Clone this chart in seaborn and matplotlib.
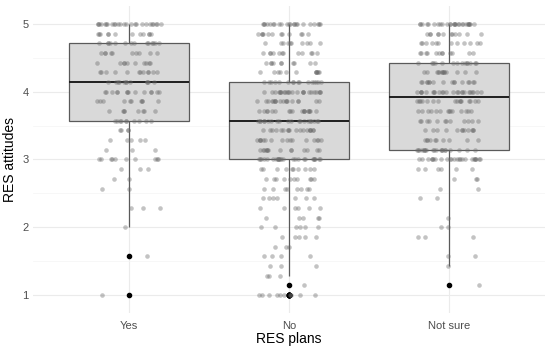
import numpy as np
import pandas as pd
import matplotlib
matplotlib.use('Agg')
import matplotlib.pyplot as plt
import seaborn as sns

# answer levels of the attitude score (sevenths between 1 and 5)
levels = [1.0, 1.143, 1.286, 1.429, 1.571, 1.714, 1.857, 2.0, 2.143, 2.286,
          2.429, 2.571, 2.714, 2.857, 3.0, 3.143, 3.286, 3.429, 3.571, 3.714,
          3.857, 4.0, 4.143, 4.286, 4.429, 4.571, 4.714, 4.857, 5.0]

# how many respondents sit on each level, per group
counts_yes = [1, 0, 0, 0, 1, 0, 0, 1, 0, 3,
              0, 2, 2, 3, 10, 3, 5, 4, 10, 8,
              10, 14, 12, 12, 10, 10, 14, 12, 25]
counts_no = [10, 1, 3, 3, 4, 3, 5, 6, 5, 6,
             7, 8, 10, 10, 25, 14, 16, 18, 20, 18,
             18, 24, 16, 12, 10, 12, 10, 12, 22]
counts_notsure = [0, 1, 0, 1, 2, 0, 3, 2, 1, 0,
                  2, 2, 3, 6, 24, 20, 10, 12, 12, 14,
                  16, 24, 16, 14, 14, 12, 12, 12, 27]

groups = ['Yes', 'No', 'Not sure']
y_ticks = [1, 2, 3, 4, 5]


def build_frame():
    parts = []
    for name, cnt in zip(groups, [counts_yes, counts_no, counts_notsure]):
        vals = np.repeat(levels, cnt)
        parts.append(pd.DataFrame({'plan': name, 'att': vals}))
    return pd.concat(parts, ignore_index=True)


df = build_frame()
np.random.seed(7)

plt.rcParams['font.family'] = ['Liberation Sans', 'DejaVu Sans']
fig, ax = plt.subplots(figsize=(5.5, 3.53), dpi=100)
fig.subplots_adjust(left=0.06, right=0.991, top=0.984, bottom=0.1144)

sns.boxplot(data=df, x='plan', y='att', order=groups, color='#D9D9D9',
            saturation=1, width=0.75, linecolor='#5A5A5A', linewidth=0.9,
            showcaps=False, fliersize=3,
            medianprops=dict(color='#1E1E1E', linewidth=1.4),
            flierprops=dict(marker='o', markerfacecolor='black',
                            markeredgecolor='black', markersize=3),
            ax=ax, zorder=2)
sns.stripplot(data=df, x='plan', y='att', order=groups, color='#6A6A6A',
              alpha=0.4, size=3.3, jitter=0.2, linewidth=0, ax=ax, zorder=3)

ax.set_xlim(-0.6, 2.6)
ax.set_ylim(0.74, 5.27)
ax.set_yticks(y_ticks)
ax.set_yticks([1.5, 2.5, 3.5, 4.5], minor=True)
ax.set_axisbelow(True)
ax.grid(which='major', axis='both', color='#EBEBEB', linewidth=0.8)
ax.grid(which='minor', axis='y', color='#F4F4F4', linewidth=0.5)
for s in ax.spines.values():
    s.set_visible(False)
ax.tick_params(which='both', length=0)
ax.tick_params(axis='both', labelsize=8, labelcolor='#4D4D4D', pad=3)
ax.tick_params(axis='x', pad=6)

ax.set_xlabel('RES plans', fontsize=10, color='black', labelpad=1)
ax.set_ylabel('RES attitudes', fontsize=10, color='black', labelpad=4)

plt.savefig('out.png', dpi=100)
plt.close('all')
